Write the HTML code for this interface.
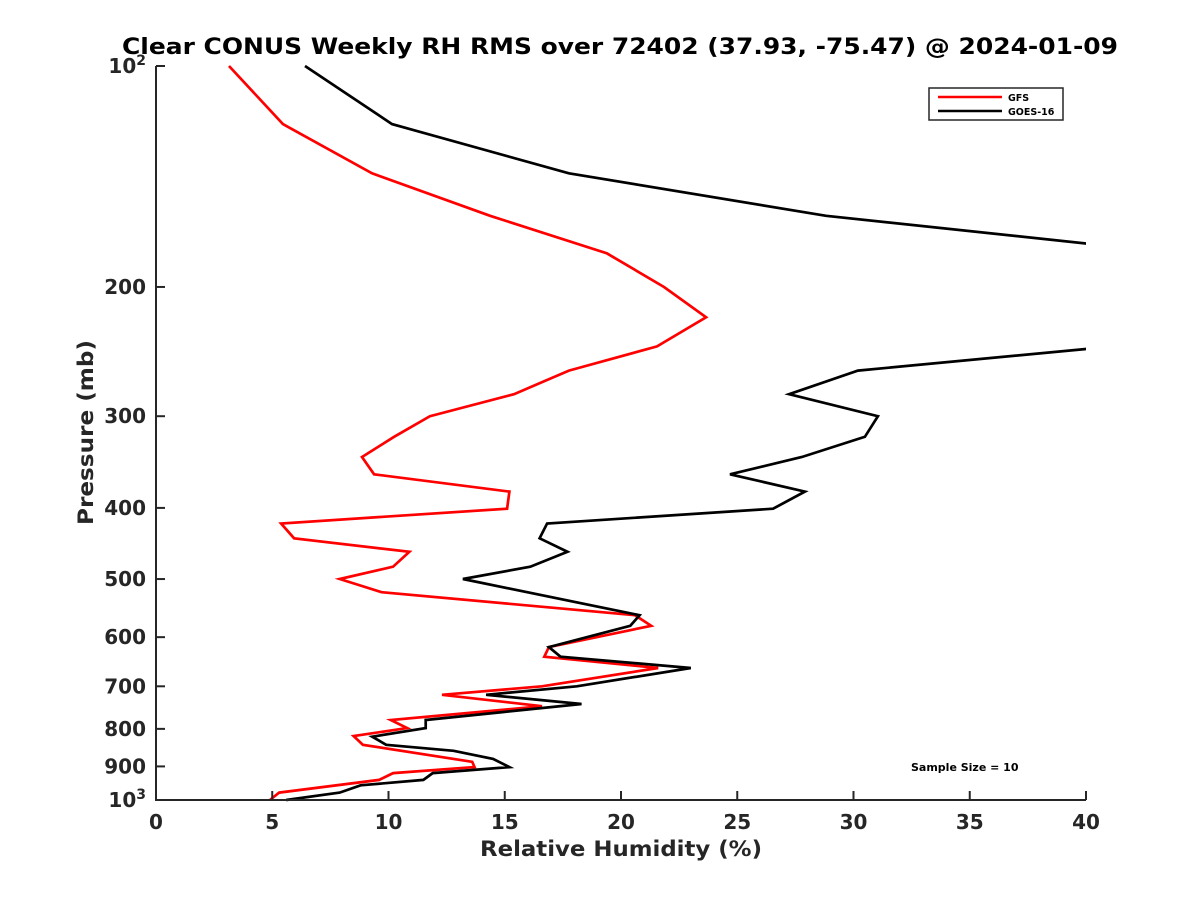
<!DOCTYPE html>
<html><head><meta charset="utf-8"><style>
body{margin:0;background:#fff;}
svg{display:block;font-family:"DejaVu Sans","Liberation Sans",sans-serif;font-weight:bold;}
</style></head><body>
<svg id="chart" width="1200" height="900" viewBox="0 0 1200 900" xmlns="http://www.w3.org/2000/svg">
<rect width="1200" height="900" fill="#fff"/>
<text x="122" y="54" textLength="996" lengthAdjust="spacingAndGlyphs" font-size="22" fill="#000">Clear CONUS Weekly RH RMS over 72402 (37.93, -75.47) @ 2024-01-09</text>
<defs><clipPath id="plotclip"><rect x="156" y="60" width="930" height="745"/></clipPath></defs>
<g id="series" clip-path="url(#plotclip)"></g>
<g id="axes"></g>
<text x="480" y="856" textLength="282" lengthAdjust="spacingAndGlyphs" font-size="21" fill="#262626">Relative Humidity (%)</text>
<text transform="translate(93,525) rotate(-90)" textLength="185" lengthAdjust="spacingAndGlyphs" font-size="21" fill="#262626">Pressure (mb)</text>
<g>
<rect x="929" y="88" width="134" height="32" fill="#fff" stroke="#262626" stroke-width="1.5"/>
<line x1="938" y1="97" x2="1002" y2="97" stroke="#ff0000" stroke-width="2.5"/>
<text x="1008" y="101" font-size="9.5" fill="#000">GFS</text>
<line x1="938" y1="111" x2="1002" y2="111" stroke="#000" stroke-width="2.5"/>
<text x="1008" y="115" font-size="9.5" fill="#000">GOES-16</text>
</g>
<text x="911" y="771" font-size="11" fill="#000">Sample Size = 10</text>
</svg>
<script>
const xTicks=[0,5,10,15,20,25,30,35,40];
const yTicks=[100,200,300,400,500,600,700,800,900,1000];
const gfsPressure=[100,120,140,160,180,200,220,241,260,280,300,320,341,360,380,401,420,440,459,481,500,521,560,579,619,638,661,700,719,745,778,798,818,841,887,902,919,939,977,1000];
const gfsRH=[3.14,5.46,9.29,14.37,19.40,21.85,23.66,21.55,17.76,15.40,11.78,10.24,8.86,9.38,15.2,15.1,5.38,5.94,10.9,10.2,7.9,9.7,20.6,21.3,16.9,16.7,21.6,16.6,12.3,16.6,10.1,10.8,8.5,8.9,13.6,13.7,10.2,9.6,5.3,4.9];
const goesPressure=[100,120,140,160,180,220,243,260,280,300,320,341,360,380,401,420,440,459,481,500,560,579,619,638,661,700,719,740,759,778,798,820,841,857,879,902,919,939,955,977,1000];
const goesRH=[6.41,10.15,17.76,28.82,44,55,40,30.19,27.23,31.05,30.49,27.78,24.69,27.91,26.54,16.82,16.5,17.7,16.1,13.2,20.8,20.4,16.9,17.4,23.0,18.1,14.2,18.3,14.9,11.6,11.6,9.3,9.9,12.8,14.5,15.2,11.9,11.5,8.8,7.9,5.6];
const NS="http://www.w3.org/2000/svg";
const X0=156,X1=1086,Y0=66,Y1=800;
function xs(v){return X0+(v-0)/40*(X1-X0);}
function ys(p){return Y0+(Math.log10(p)-2)*(Y1-Y0);}
function mk(tag,attrs,parent){const e=document.createElementNS(NS,tag);for(const k in attrs)e.setAttribute(k,attrs[k]);parent.appendChild(e);return e;}
const series=document.getElementById('series');
const axes=document.getElementById('axes');
function drawLine(vals,ps,color,name){
  const d=vals.map((v,i)=>(i?'L':'M')+xs(v).toFixed(1)+' '+ys(ps[i]).toFixed(1)).join(' ');
  const p=mk('path',{d:d,fill:'none',stroke:color,'stroke-width':2.7,'stroke-linejoin':'miter'},series);
  
  
}
drawLine(gfsRH,gfsPressure,'#ff0000','gfs-line');
drawLine(goesRH,goesPressure,'#000','goes-16-line');
const ax=mk('path',{d:`M${X0} ${Y0} L${X0} ${Y1} L${X1} ${Y1}`,fill:'none',stroke:'#262626','stroke-width':2},axes);


xTicks.forEach(v=>{
  const x=xs(v);
  mk('line',{x1:x,y1:Y1,x2:x,y2:Y1-9,stroke:'#262626','stroke-width':2},axes);
  const t=mk('text',{x:x,y:Y1+29,'text-anchor':'middle','font-size':20,fill:'#262626'},axes);
  t.textContent=String(v);
  
  
});
yTicks.forEach(p=>{
  const y=ys(p);
  mk('line',{x1:X0,y1:y,x2:X0+9,y2:y,stroke:'#262626','stroke-width':2},axes);
  const t=mk('text',{x:X0-10,y:y+7,'text-anchor':'end','font-size':20,fill:'#262626'},axes);
  if(p===100){t.textContent='10';const s=mk('tspan',{dy:-8,'font-size':14},t);s.textContent='2';}
  else if(p===1000){t.textContent='10';const s=mk('tspan',{dy:-8,'font-size':14},t);s.textContent='3';}
  else t.textContent=String(p);
  
  
});
</script>
</body></html>
